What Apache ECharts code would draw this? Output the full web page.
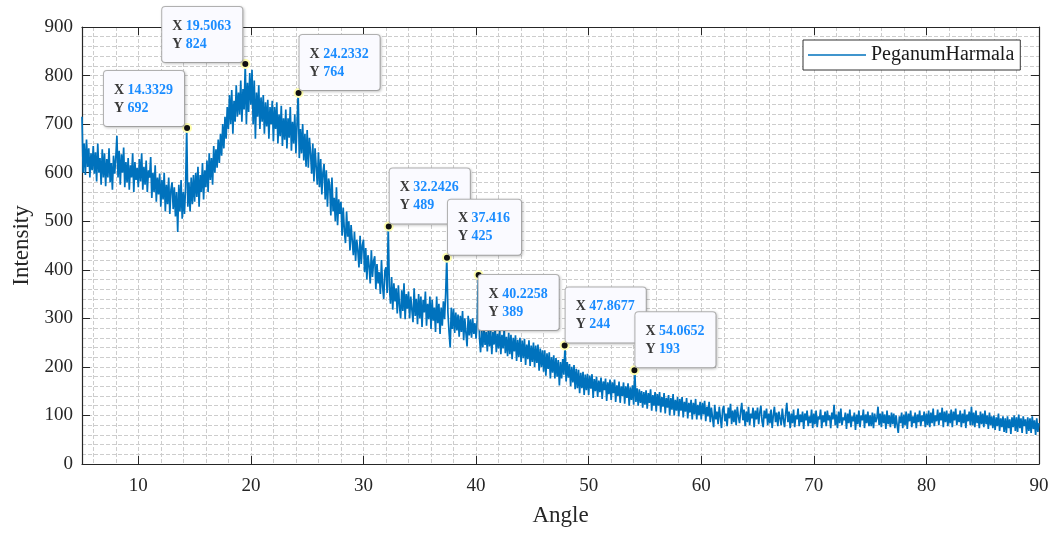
<!DOCTYPE html>
<html>
<head>
<meta charset="utf-8">
<script src="https://cdn.jsdelivr.net/npm/echarts@6/dist/echarts.min.js"></script>
<style>
  html, body { margin: 0; padding: 0; background: #fff; }
  #chart { width: 1060px; height: 536px; }
</style>
</head>
<body>
<div id="chart"></div>
<script>
// ---------------- DATA ----------------
const seriesName = 'PeganumHarmala';
const angleStart = 5;      // first angle of the scan
const angleStep = 0.1;     // scan step
// Intensity, one row per degree (x.0 ... x.9)
const intensity = [
/* 5 */ 715,600,660,595,668,612,650,590,640,605,
/* 6 */ 655,598,642,582,660,600,630,575,648,590,
/* 7 */ 640,572,628,590,650,580,620,565,635,598,
/* 8 */ 630,676,590,645,575,638,600,652,570,622,
/* 9 */ 580,630,565,615,590,640,560,622,585,610,
/*10 */ 570,628,582,640,565,612,575,625,560,605,
/*11 */ 590,632,548,600,560,615,540,590,555,598,
/*12 */ 530,585,545,600,520,575,535,590,515,565,
/*13 */ 580,525,570,510,560,478,575,520,585,505,
/*14 */ 560,515,570,692,530,580,520,590,535,595,
/*15 */ 540,600,550,612,530,595,560,620,545,605,
/*16 */ 570,625,560,640,585,630,575,655,600,648,
/*17 */ 610,668,620,680,635,700,650,715,670,735,
/*18 */ 690,760,700,770,680,748,705,780,715,765,
/*19 */ 720,790,705,772,730,824,700,785,725,805,
/*20 */ 740,812,700,790,670,765,715,780,690,755,
/*21 */ 705,760,680,745,695,750,670,735,700,748,
/*22 */ 665,735,690,745,660,720,675,738,655,712,
/*23 */ 668,730,650,712,672,735,645,705,660,720,
/*24 */ 640,700,764,630,690,640,700,625,680,612,
/*25 */ 688,610,672,640,598,660,582,650,612,575,
/*26 */ 642,570,628,555,600,618,545,605,530,588,
/*27 */ 575,512,590,520,548,500,570,492,545,515,
/*28 */ 540,470,528,482,455,520,468,500,440,492,
/*29 */ 495,430,478,418,462,440,405,470,412,450,
/*30 */ 462,395,445,380,430,408,372,440,385,418,
/*31 */ 428,360,412,372,395,350,420,365,340,398,
/*32 */ 405,352,489,365,330,385,318,372,335,362,
/*33 */ 310,368,325,300,358,315,372,298,350,320,
/*34 */ 355,300,345,318,292,362,305,340,288,350,
/*35 */ 300,345,282,338,312,355,285,330,298,345,
/*36 */ 278,338,295,322,272,345,290,330,268,322,
/*37 */ 285,335,298,350,425,312,272,240,322,278,
/*38 */ 320,270,312,275,308,262,305,272,315,255,
/*39 */ 300,270,242,305,265,298,260,300,268,290,
/*40 */ 258,295,389,262,230,275,240,280,245,272,
/*41 */ 232,280,242,275,226,272,246,280,230,268,
/*42 */ 238,278,226,266,238,280,228,262,222,270,
/*43 */ 226,266,216,260,232,265,212,256,220,260,
/*44 */ 210,254,218,258,204,246,216,255,202,244,
/*45 */ 210,250,200,244,208,246,192,238,200,234,
/*46 */ 190,234,182,228,196,230,176,220,188,224,
/*47 */ 176,218,180,214,162,210,176,216,184,244,
/*48 */ 170,210,178,206,160,200,168,204,154,196,
/*49 */ 156,194,146,188,156,190,142,184,152,186,
/*50 */ 142,182,155,185,136,175,150,180,138,172,
/*51 */ 148,178,134,170,152,176,130,168,144,174,
/*52 */ 132,168,146,174,128,162,140,170,126,160,
/*53 */ 140,168,124,160,136,166,120,158,132,162,
/*54 */ 122,193,128,156,120,154,126,150,116,148,
/*55 */ 122,152,114,146,126,154,110,142,120,148,
/*56 */ 108,144,120,148,106,138,118,146,104,136,
/*57 */ 116,142,100,136,112,144,100,132,110,138,
/*58 */ 98,134,110,138,96,128,108,136,94,126,
/*59 */ 106,132,92,126,102,134,92,122,100,128,
/*60 */ 92,126,102,130,88,118,98,128,86,116,
/*61 */ 115,76,122,92,108,82,118,96,74,112,
/*62 */ 120,88,104,78,116,94,124,82,110,86,
/*63 */ 112,80,118,98,84,108,126,90,112,78,
/*64 */ 108,86,118,80,104,94,116,76,110,92,
/*65 */ 116,82,106,120,88,76,110,94,114,80,
/*66 */ 104,84,112,74,100,118,86,106,78,108,
/*67 */ 110,80,114,92,76,104,126,86,108,74,
/*68 */ 104,84,112,76,100,92,114,78,102,86,
/*69 */ 108,72,104,90,110,78,98,84,112,74,
/*70 */ 104,82,110,76,98,92,112,74,100,86,
/*71 */ 108,78,110,90,100,74,106,92,122,80,
/*72 */ 102,74,108,84,114,80,96,90,106,72,
/*73 */ 104,84,112,76,98,88,106,70,102,82,
/*74 */ 110,76,100,90,112,74,102,84,108,78,
/*75 */ 100,78,106,74,104,86,94,118,80,104,
/*76 */ 76,108,84,102,72,110,82,100,76,106,
/*77 */ 82,104,74,100,80,64,98,84,106,74,
/*78 */ 102,80,108,72,104,88,110,76,98,84,
/*79 */ 106,74,102,86,110,78,100,88,108,76,
/*80 */ 104,80,110,76,106,84,114,78,100,88,
/*81 */ 112,80,106,90,116,76,108,86,110,78,
/*82 */ 104,84,112,76,108,90,114,80,102,86,
/*83 */ 110,76,104,84,112,74,102,88,108,80,
/*84 */ 118,80,106,76,110,84,100,74,108,82,
/*85 */ 104,76,110,82,100,72,106,80,98,74,
/*86 */ 100,70,96,78,104,68,94,76,98,66,
/*87 */ 94,64,98,74,92,62,96,76,100,68,
/*88 */ 96,66,102,74,94,64,98,78,92,62,
/*89 */ 96,68,94,64,98,72,90,60,94,66,
/*90 */ 84
];
// Annotated peaks (data tips)
const peakAngles      = [14.3329, 19.5063, 24.2332, 32.2426, 37.416, 40.2258, 47.8677, 54.0652];
const peakIntensities = [692, 824, 764, 489, 425, 389, 244, 193];
// Axis ranges
const angleMin = 5, angleMax = 90;
const intensityMin = 0, intensityMax = 900, intensityTick = 100;

// ---------------- STYLE ----------------
const serif = "'Liberation Serif','Times New Roman',serif";
const axisColor = '#262626';
const gridColor = '#cdcdcd';
const lineColor = '#0072BD';
const tipPlacement = ['ul','ul','ur','ur','ur','lr','ur','ur'];
const placements = {
  ul: { position: [2, 3], align: 'right', verticalAlign: 'bottom' },
  ur: { position: [6, 2], align: 'left',  verticalAlign: 'bottom' },
  lr: { position: [5, 5], align: 'left',  verticalAlign: 'top' }
};

// ---------------- BUILD ----------------
const lineData = intensity.map((v, i) => [Math.round((angleStart + i * angleStep) * 10) / 10, v]);
const gridAngles = [];
for (let a = angleMin; a <= angleMax; a++) gridAngles.push(String(a));
const peakData = peakAngles.map((a, i) => ({
  value: [a, peakIntensities[i]],
  label: placements[tipPlacement[i]]
}));

const chart = echarts.init(document.getElementById('chart'), null, { renderer: 'canvas' });
const tickStyle = { show: true, inside: true, length: 8, lineStyle: { color: axisColor, width: 1 } };
const axisLineStyle = { show: true, onZero: false, lineStyle: { color: axisColor, width: 1.2 } };
const dashed = { color: gridColor, width: 1, type: [4, 2] };

chart.setOption({
  animation: false,
  backgroundColor: '#fff',
  grid: { left: 82, right: 21, top: 27, bottom: 72, containLabel: false },
  legend: {
    data: [{ name: seriesName, icon: 'path://M0,0 L58,0 L58,1.3 L0,1.3 Z' }],
    left: 803, top: 40,
    padding: [5, 6, 5, 5],
    backgroundColor: '#fff',
    borderColor: '#333', borderWidth: 1, borderRadius: 0,
    itemWidth: 58, itemHeight: 14,
    textStyle: { fontFamily: serif, fontSize: 20, color: '#1a1a1a' },
    selectedMode: false
  },
  xAxis: [
    {
      type: 'value', position: 'bottom', min: angleMin, max: angleMax, splitNumber: 9,
      name: 'Angle', nameLocation: 'middle', nameGap: 40,
      nameTextStyle: { fontFamily: serif, fontSize: 23, color: axisColor },
      axisLine: axisLineStyle, axisTick: tickStyle,
      axisLabel: { fontFamily: serif, fontSize: 19, color: axisColor, margin: 13,
        formatter: v => (v === angleMin ? '' : String(v)) },
      splitLine: { show: false }
    },
    {
      type: 'category', position: 'bottom', data: gridAngles, boundaryGap: false,
      axisLine: { show: false }, axisTick: { show: false }, axisLabel: { show: false },
      splitLine: { show: true, interval: (idx, val) => Number(val) % 2 === 0, lineStyle: dashed }
    },
    {
      type: 'value', position: 'top', min: angleMin, max: angleMax, splitNumber: 9,
      axisLine: axisLineStyle, axisTick: tickStyle, axisLabel: { show: false },
      splitLine: { show: false }
    }
  ],
  yAxis: [
    {
      type: 'value', position: 'left', min: intensityMin, max: intensityMax, interval: intensityTick,
      name: 'Intensity', nameLocation: 'middle', nameGap: 49,
      nameTextStyle: { fontFamily: serif, fontSize: 23, color: axisColor },
      axisLine: axisLineStyle, axisTick: tickStyle,
      axisLabel: { fontFamily: serif, fontSize: 19, color: axisColor, margin: 9 },
      splitLine: { show: true, lineStyle: dashed },
      minorTick: { show: false, splitNumber: 5 },
      minorSplitLine: { show: true, lineStyle: dashed }
    },
    {
      type: 'value', position: 'right', min: intensityMin, max: intensityMax, interval: intensityTick,
      axisLine: axisLineStyle, axisTick: tickStyle, axisLabel: { show: false },
      splitLine: { show: false }
    }
  ],
  series: [
    {
      name: seriesName, type: 'line', xAxisIndex: 0, yAxisIndex: 0,
      data: lineData, symbol: 'none', showSymbol: false, silent: true,
      lineStyle: { color: lineColor, width: 1.7 }, itemStyle: { color: lineColor },
      z: 3
    },
    {
      name: 'tips', type: 'scatter', xAxisIndex: 0, yAxisIndex: 0,
      data: peakData, symbol: 'circle', symbolSize: 8, silent: true, z: 5,
      itemStyle: { color: '#111', borderColor: '#ffffb0', borderWidth: 2, opacity: 1 },
      label: {
        show: true,
        fontFamily: serif, fontSize: 14, fontWeight: 'bold', lineHeight: 18,
        backgroundColor: '#fafaff', borderColor: '#b5b5b5', borderWidth: 1, borderRadius: 3,
        padding: [10, 11, 9, 10],
        shadowColor: 'rgba(0,0,0,0.18)', shadowBlur: 3, shadowOffsetX: 1, shadowOffsetY: 1,
        formatter: p => '{k|X }{v|' + peakAngles[p.dataIndex] + '}\n{k|Y }{v|' + peakIntensities[p.dataIndex] + '}',
        rich: {
          k: { fontFamily: serif, fontSize: 14, fontWeight: 'bold', color: '#3a3a3a', lineHeight: 18, align: 'left' },
          v: { fontFamily: serif, fontSize: 14, fontWeight: 'bold', color: '#1a8cff', lineHeight: 18, align: 'left' }
        }
      }
    }
  ]
});
</script>
</body>
</html>
